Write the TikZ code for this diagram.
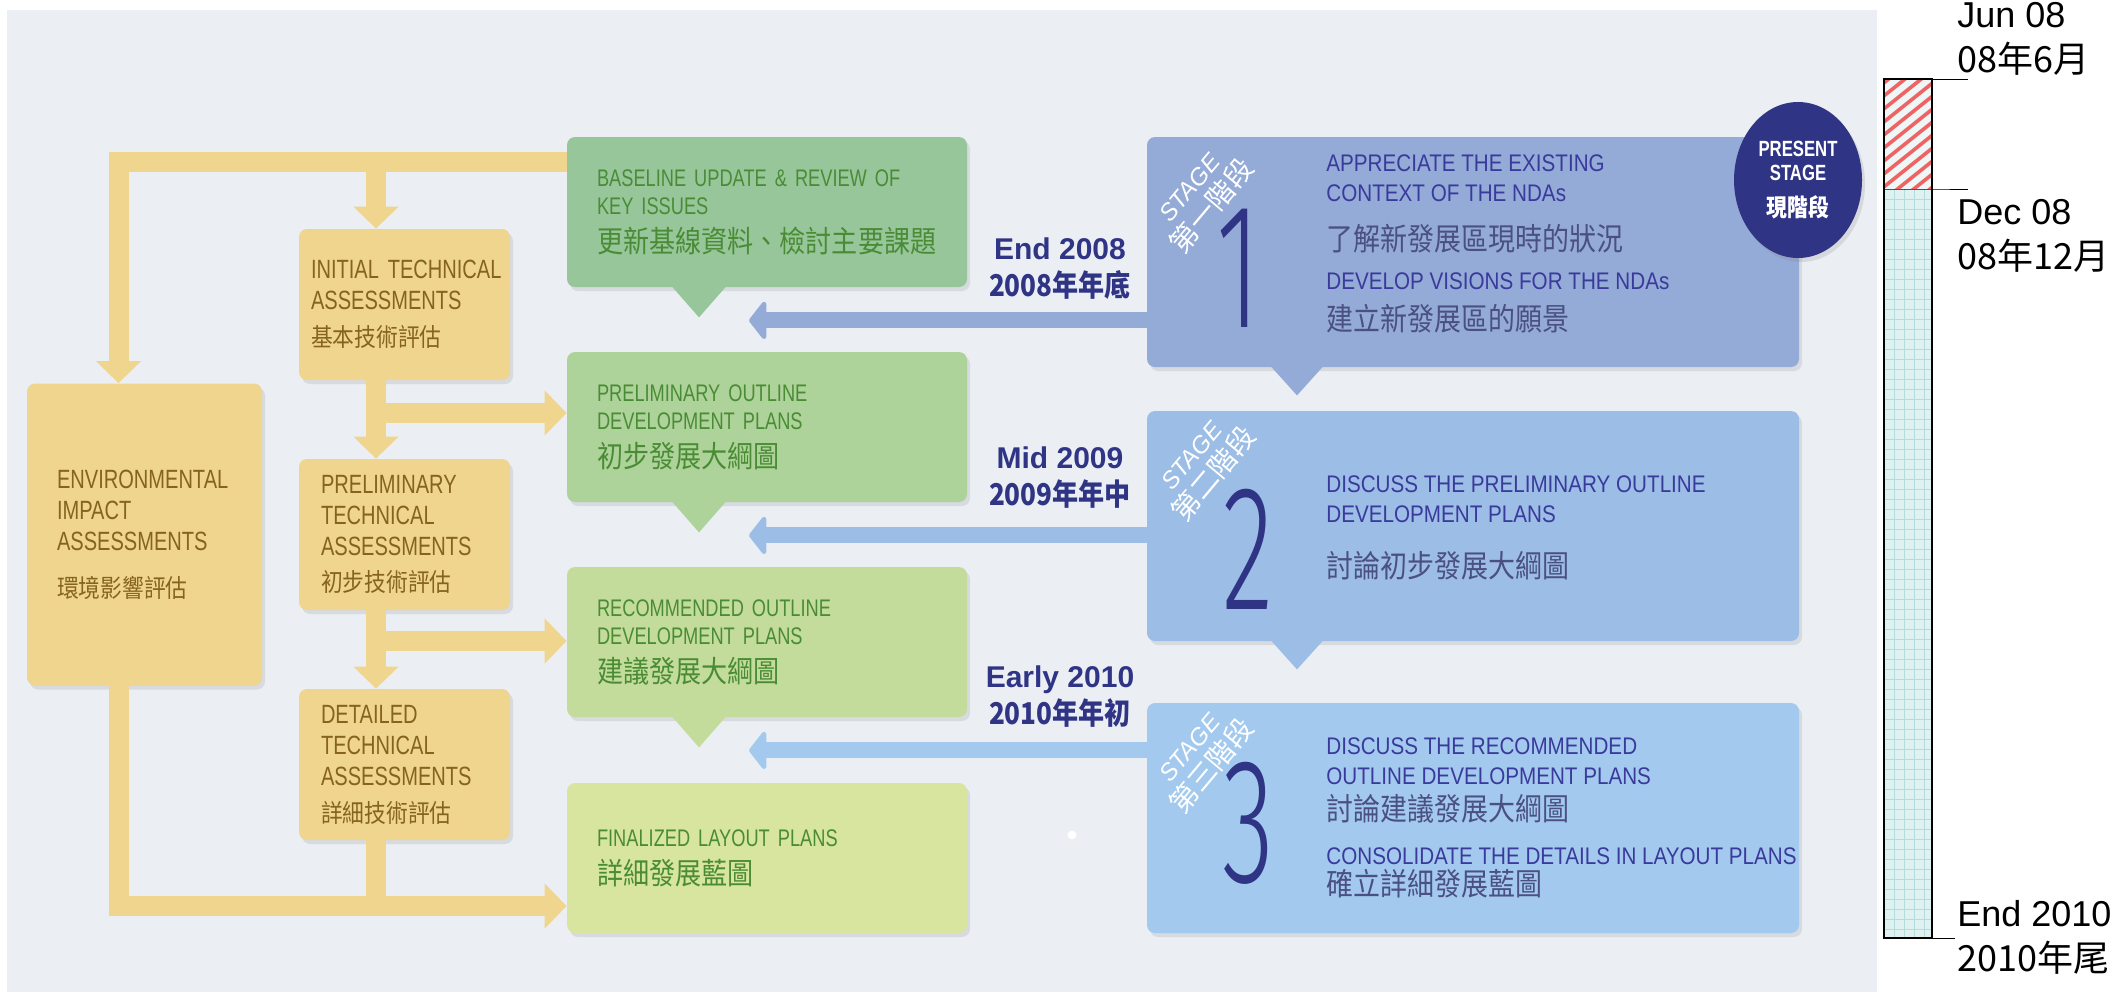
\documentclass[tikz,border=0pt]{standalone}
\usepackage{fontspec}
\usetikzlibrary{positioning, calc, arrows.meta, shadows, shapes.geometric}

\setmainfont{Liberation Sans}
\newfontfamily\condfont[FakeStretch=0.76]{Liberation Sans}
\newfontfamily\stagefont[FakeStretch=0.86]{Liberation Sans}
\newfontfamily\zhfont[FakeStretch=0.87]{Noto Sans CJK TC}
\newfontfamily\zhwide{Noto Sans CJK TC}
\newfontfamily\digitfont[FakeStretch=0.6]{Fira Sans Light}
\newcommand{\cn}[2]{{\zhfont\fontsize{#1}{#1}\selectfont #2}}
\hyphenpenalty=10000
\exhyphenpenalty=10000

\definecolor{panel}{HTML}{EBEFF4}
\definecolor{ochre}{HTML}{EFD58E}
\definecolor{ochretext}{HTML}{86641F}
\definecolor{greenA}{HTML}{98C69B}
\definecolor{greenB}{HTML}{AED39A}
\definecolor{greenC}{HTML}{C4DC9B}
\definecolor{greenD}{HTML}{D8E59F}
\definecolor{greentext}{HTML}{4A8C35}
\definecolor{blueA}{HTML}{94AAD7}
\definecolor{blueB}{HTML}{9CBDE5}
\definecolor{blueC}{HTML}{A3CAEE}
\definecolor{navy}{HTML}{2F3485}
\definecolor{stagetext}{HTML}{3A3A9C}
\definecolor{stagezh}{HTML}{4A5082}
\definecolor{hatchred}{HTML}{EE6464}
\definecolor{hatchbg}{HTML}{EEF6F6}
\definecolor{gridfill}{HTML}{E0F1F1}
\definecolor{gridline}{HTML}{B5DCDC}

\tikzset{
  box/.style={rectangle, rounded corners=4pt, inner ysep=0pt,
    drop shadow={opacity=0.18, shadow xshift=1.5pt, shadow yshift=-2pt}},
  techbox/.style={box, fill=ochre, text=ochretext, align=left,
    minimum width=105.5pt, minimum height=75.5pt, inner xsep=11pt, text width=83.5pt,
    font=\condfont\fontsize{13.2pt}{15.5pt}\selectfont},
  planbox/.style={box, fill=#1, text=greentext, align=left,
    minimum width=200pt, minimum height=75pt, inner xsep=15pt, text width=170pt,
    font=\condfont\fontsize{12pt}{14pt}\selectfont},
  stagebox/.style={box, fill=#1, minimum width=326pt, minimum height=115pt},
  stagetxt/.style={anchor=west, align=left, text=stagetext, inner sep=0pt,
    font=\stagefont\fontsize{12pt}{15pt}\selectfont},
  stagenum/.style={text=navy, inner sep=0pt, font=\digitfont\fontsize{89pt}{89pt}\selectfont},
  stagetag/.style={rotate=50, align=center, text=white, inner sep=0pt,
    font=\fontsize{12pt}{15pt}\selectfont},
  datelbl/.style={align=center, text=navy, inner sep=0pt,
    font=\bfseries\fontsize{15pt}{18.5pt}\selectfont},
  timelbl/.style={anchor=west, align=left, inner sep=0pt,
    font=\fontsize{18pt}{22.5pt}\selectfont},
  yline/.style={draw=ochre, line width=10pt},
  yarr/.style={yline, -{Triangle[width=22pt, length=11pt]}},
  barr/.style={draw=#1, line width=8pt, -{Triangle[width=22.5pt, length=9pt, round]}}
}

\begin{document}
\begin{tikzpicture}[x=0.5pt, y=-0.5pt, on grid]
\useasboundingbox (0,0) rectangle (2118,992);
\fill[panel] (7,10) rectangle (1877,992);

\node[techbox, inner xsep=6pt, text width=93.5pt] (init) at (404.5,304.5)
  {\mbox{INITIAL TECHNICAL}\\ASSESSMENTS\\[3pt]\cn{12.5pt}{基本技術評估}};
\node[techbox, below=115pt of init] (prel)
  {PRELIMINARY\\TECHNICAL\\ASSESSMENTS\\[2.5pt]\cn{12.5pt}{初步技術評估}};
\node[techbox, below=115pt of prel] (det)
  {DETAILED\\TECHNICAL\\ASSESSMENTS\\[3pt]\cn{12.5pt}{詳細技術評估}};
\node[techbox, minimum width=117.5pt, minimum height=151pt, inner xsep=15pt,
  text width=87.5pt, left=130pt of prel] (eia)
  {ENVIRONMENTAL\\IMPACT\\ASSESSMENTS\\[8pt]\cn{12.5pt}{環境影響評估}};

\node[planbox=greenA] (base) at (767,212)
  {BASELINE UPDATE \& REVIEW OF\\KEY ISSUES\\[5pt]\cn{15pt}{更新基線資料、檢討主要課題}};
\node[planbox=greenB, below=107.5pt of base] (outl)
  {PRELIMINARY OUTLINE\\DEVELOPMENT PLANS\\[5pt]\cn{15pt}{初步發展大綱圖}};
\node[planbox=greenC, below=107.5pt of outl] (recm)
  {RECOMMENDED OUTLINE\\DEVELOPMENT PLANS\\[5pt]\cn{15pt}{建議發展大綱圖}};
\node[planbox=greenD, below=108pt of recm] (final)
  {FINALIZED LAYOUT PLANS\\[5pt]\cn{15pt}{詳細發展藍圖}};

\node[stagebox=blueA] (sA) at (1473,252) {};
\node[stagebox=blueB, below=137pt of sA] (sB) {};
\node[stagebox=blueC, below=146pt of sB] (sC) {};

\coordinate (tipA) at ($(base.south)+(-68,30)$);
\coordinate (tipB) at ($(outl.south)+(-68,30)$);
\coordinate (tipC) at ($(recm.south)+(-68,30)$);
\fill[greenA] ($(base.south)+(-96,-2)$) -- (tipA) -- ($(base.south)+(-40,-2)$) -- cycle;
\fill[greenB] ($(outl.south)+(-96,-2)$) -- (tipB) -- ($(outl.south)+(-40,-2)$) -- cycle;
\fill[greenC] ($(recm.south)+(-96,-2)$) -- (tipC) -- ($(recm.south)+(-40,-2)$) -- cycle;
\fill[blueA] ($(sA.south)+(-203,-2)$) -- ($(sA.south)+(-176,28)$) -- ($(sA.south)+(-149,-2)$) -- cycle;
\fill[blueB] ($(sB.south)+(-203,-2)$) -- ($(sB.south)+(-176,28)$) -- ($(sB.south)+(-149,-2)$) -- cycle;

\node[stagenum] (nA) at ($(sA.center)+(-234,16)$) {1};
\node[stagenum] (nB) at ($(sB.center)+(-225,23.5)$) {2};
\node[stagenum] (nC) at ($(sC.center)+(-225,5)$) {3};
\node[stagetag] (gA) at ($(sA.center)+(-271,-54)$) {\textit{STAGE}\\{\zhwide\fontsize{14pt}{14pt}\selectfont 第一階段}};
\node[stagetag] (gB) at ($(sB.center)+(-269,-60)$) {\textit{STAGE}\\{\zhwide\fontsize{14pt}{14pt}\selectfont 第二階段}};
\node[stagetag] (gC) at ($(sC.center)+(-271,-60)$) {\textit{STAGE}\\{\zhwide\fontsize{14pt}{14pt}\selectfont 第三階段}};

\node[stagetxt] (tA) at ($(sA.center)+(-147,-8)$)
  {APPRECIATE THE EXISTING\\CONTEXT OF THE NDAs\\[9.5pt]\textcolor{stagezh}{\cn{15.5pt}{了解新發展區現時的狀況}}\\[4.5pt]DEVELOP VISIONS FOR THE NDAs\\[5.5pt]\textcolor{stagezh}{\cn{15.5pt}{建立新發展區的願景}}};
\node[stagetxt] (tB) at ($(sB.center)+(-147,1.5)$)
  {DISCUSS THE PRELIMINARY OUTLINE\\DEVELOPMENT PLANS\\[12.5pt]\textcolor{stagezh}{\cn{15.5pt}{討論初步發展大綱圖}}};
\node[stagetxt] (tC) at ($(sC.center)+(-147,0)$)
  {DISCUSS THE RECOMMENDED\\OUTLINE DEVELOPMENT PLANS\\[3pt]\textcolor{stagezh}{\cn{15.5pt}{討論建議發展大綱圖}}\\[7pt]CONSOLIDATE THE DETAILS IN LAYOUT PLANS\\[0.5pt]\textcolor{stagezh}{\cn{15.5pt}{確立詳細發展藍圖}}};

\node[ellipse, fill=navy, minimum width=64pt, minimum height=78pt, inner sep=0pt,
  align=center, text=white, font=\condfont\bfseries\fontsize{11pt}{12pt}\selectfont,
  drop shadow={opacity=0.2, shadow xshift=1.5pt, shadow yshift=-2pt}] (now) at (1798,180)
  {PRESENT\\STAGE\\[6pt]{\zhfont\bfseries\fontsize{12pt}{12pt}\selectfont 現階段}};

\node[datelbl] (dA) at (1060,269) {End 2008\\{\zhfont\bfseries 2008年年底}};
\node[datelbl] (dB) at (1060,478) {Mid 2009\\{\zhfont\bfseries 2009年年中}};
\node[datelbl] (dC) at (1060,697) {Early 2010\\{\zhfont\bfseries 2010年年初}};

\coordinate (j0) at (376,162);
\coordinate (j1) at (376,413);
\coordinate (j2) at (376,641);
\coordinate (j3) at (376,906);
\coordinate (eiaIn) at ($(eia.north)+(-26,0)$);
\coordinate (eiaOut) at ($(eia.south)+(-26,0)$);
\draw[yarr] (base.west |- j0) -| (eiaIn);
\draw[yarr] (j0) -- (j0 |- init.north);
\draw[yarr] (init.south -| j1) -- (j1 |- prel.north);
\draw[yarr] (j1) -- (j1 -| outl.west);
\draw[yarr] (prel.south -| j2) -- (j2 |- det.north);
\draw[yarr] (j2) -- (j2 -| recm.west);
\draw[yline] (det.south -| j3) -- (j3);
\draw[yarr] (eiaOut) |- (final.west |- j3);

\coordinate (arrA) at ($(tipA)+(50,3)$);
\coordinate (arrB) at ($(tipB)+(50,3)$);
\coordinate (arrC) at ($(tipC)+(50,3)$);
\draw[barr=blueA] (sA.west |- arrA) -- (arrA);
\draw[barr=blueB] (sB.west |- arrB) -- (arrB);
\draw[barr=blueC] (sC.west |- arrC) -- (arrC);

\fill[white] (1072,835) circle (2.2pt);

\begin{scope}
\clip (1884,79) rectangle (1932,189);
\fill[hatchbg] (1884,79) rectangle (1932,189);
\foreach \k in {0,...,13}
  \draw[hatchred, line width=1.8pt] (1870,{250-13*\k}) -- ++(80,-64);
\end{scope}
\fill[gridfill] (1884,189) rectangle (1932,938);
\foreach \gx in {1894,1904,...,1924}
  \draw[gridline, line width=0.4pt] (\gx,189) -- (\gx,938);
\foreach \gy in {199,209,...,929}
  \draw[gridline, line width=0.4pt] (1884,\gy) -- (1932,\gy);
\draw[line width=0.7pt] (1884,79) rectangle (1932,938);

\coordinate (mJun) at (1932,79);
\coordinate (mDec) at (1932,189);
\coordinate (mEnd) at (1932,938);
\node[timelbl] (jun) at (1957,38.5) {Jun 08\\{\zhwide 08年6月}};
\node[timelbl] (dec) at (1957,235.5) {Dec 08\\{\zhwide 08年12月}};
\node[timelbl] (fin) at (1957,937) {End 2010\\{\zhwide 2010年尾}};
\draw[line width=0.5pt] (mJun) -- ++(36,0);
\draw[line width=0.5pt] (1884,189) -- (mDec) -- ++(36,0);
\draw[line width=0.5pt] (mEnd) -- ++(23,0);
\end{tikzpicture}
\end{document}
